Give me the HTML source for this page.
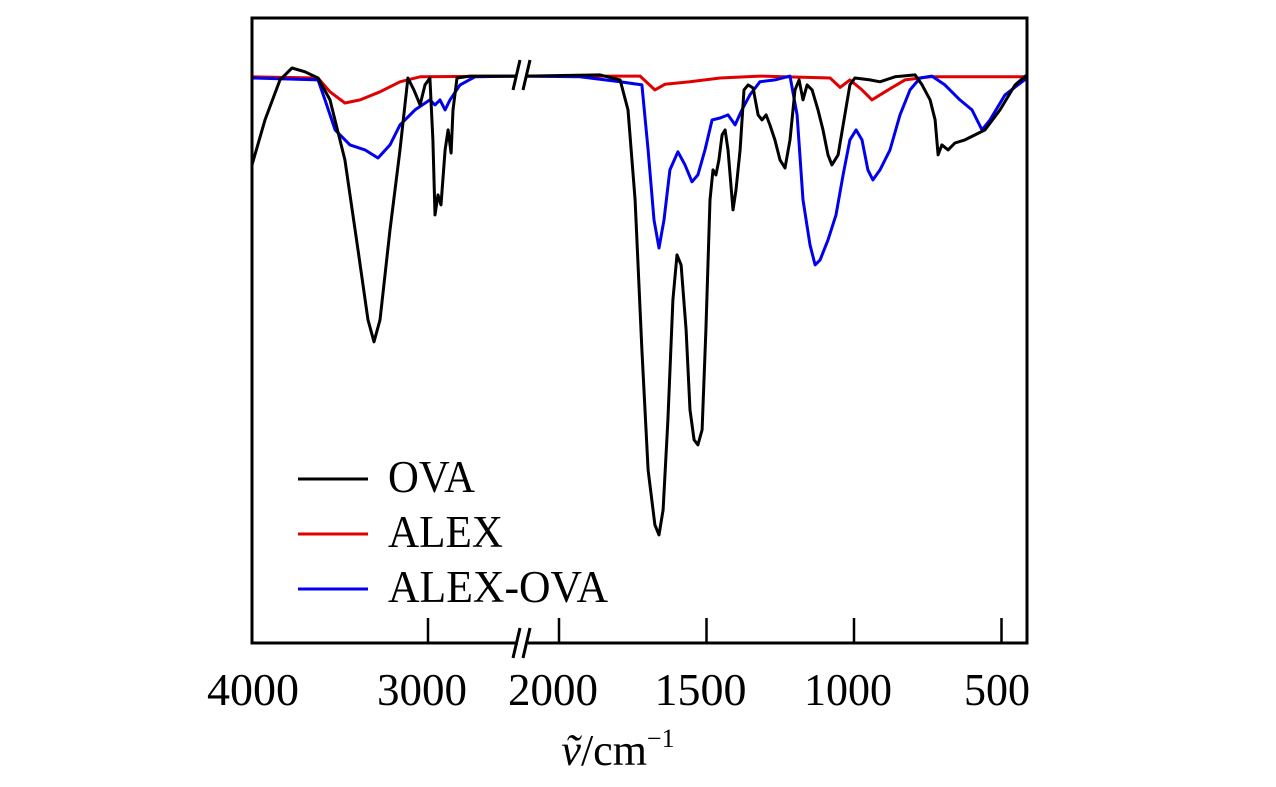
<!DOCTYPE html>
<html><head><meta charset="utf-8"><style>
body{margin:0;background:#fff;}
svg{display:block;font-family:"Liberation Serif",serif;}
</style></head><body>
<svg id="chart" width="1276" height="787" viewBox="0 0 1276 787">
<defs><clipPath id="clipL"><rect x="252" y="18" width="269" height="625"/></clipPath>
<clipPath id="clipR"><rect x="525" y="18" width="502" height="625"/></clipPath></defs>
<g id="series"></g>
<rect x="252" y="18" width="775" height="625" fill="none" stroke="#000" stroke-width="3"/>
<g id="ticks"></g>
<g>
<rect x="518" y="630" width="10" height="20" fill="#fff"/>
<line x1="513" y1="658" x2="520" y2="628" stroke="#000" stroke-width="3"/>
<line x1="523" y1="658" x2="530" y2="628" stroke="#000" stroke-width="3"/>
<rect x="517" y="60" width="9" height="30" fill="#fff"/>
<line x1="513" y1="90" x2="520" y2="60" stroke="#000" stroke-width="3"/>
<line x1="523" y1="90" x2="530" y2="60" stroke="#000" stroke-width="3"/>
</g>
<text x="618" y="765" font-size="44" text-anchor="middle"><tspan font-style="italic">ṽ</tspan>/cm<tspan font-size="26" dy="-18">−1</tspan></text>
<g>
<g><line x1="298" y1="479" x2="368" y2="479" stroke="#000" stroke-width="3"/><text x="388" y="492" font-size="45" textLength="87" lengthAdjust="spacingAndGlyphs">OVA</text></g>
<g><line x1="298" y1="534" x2="368" y2="534" stroke="#e00000" stroke-width="3"/><text x="388" y="547" font-size="45" textLength="115" lengthAdjust="spacingAndGlyphs">ALEX</text></g>
<g><line x1="298" y1="589" x2="368" y2="589" stroke="#0000ee" stroke-width="3"/><text x="388" y="602" font-size="45" textLength="220" lengthAdjust="spacingAndGlyphs">ALEX-OVA</text></g>
</g>
</svg>
<script>
const tickValues=[4000,3000,2000,1500,1000,500];
const ovaLeftX=[4000,3926,3841,3773,3699,3625,3557,3472,3398,3341,3307,3273,3216,3159,3114,3080,3045,3017,2989,2972,2960,2943,2926,2903,2886,2869,2858,2835,2761,2472];
const ovaLeftT=[76.5,83.7,90.1,92,91.4,90.4,86.9,77.3,62.9,51.7,48.2,51.7,66.1,78.9,90.4,88.5,86.1,89.3,90.4,80.5,68.5,71.7,70.1,78.9,82.1,78.4,85.3,90.4,90.7,90.7];
const ovaRightX=[2115,1861,1793,1766,1742,1719,1698,1675,1661,1647,1631,1614,1600,1586,1569,1556,1542,1529,1515,1502,1488,1478,1468,1458,1447,1437,1427,1410,1400,1386,1373,1359,1342,1325,1312,1298,1285,1268,1251,1234,1217,1200,1186,1173,1159,1142,1122,1105,1088,1075,1054,1034,1014,997,946,912,861,793,769,742,725,715,702,681,658,624,590,556,505,454,414];
const ovaRightT=[90.7,90.9,90.1,85.3,70.9,46.9,27.7,18.9,17.3,21.3,35.7,54.9,62.1,60.5,50.1,37.3,32.5,31.7,34.1,50.1,70.9,75.7,74.9,77.3,81.3,82.1,78.9,69.3,72.5,78.9,88.5,89.3,88.8,84.5,83.7,84.5,82.9,80.5,77.3,76,80.5,88.5,90.1,86.9,89.3,88.5,85.3,82.1,78.1,76.5,78.1,83.7,89.3,90.4,90.1,89.8,90.6,90.9,89.3,86.9,83.7,78.1,79.7,78.9,80,80.5,81.3,82.1,85.3,89.3,90.9];
const alexLeftX=[4000,3625,3557,3472,3386,3273,3159,3045,2472];
const alexLeftT=[90.6,90.4,88.2,86.4,86.9,88.2,89.8,90.6,90.7];
const alexRightX=[2115,1725,1675,1641,1556,1454,1319,1081,1047,1014,973,939,895,827,742,414];
const alexRightT=[90.7,90.7,88.5,89.4,89.8,90.4,90.7,90.4,88.9,90.1,88.5,86.9,88.2,90.1,90.6,90.6];
const blueLeftX=[4000,3625,3585,3528,3443,3358,3284,3216,3159,3074,2989,2960,2932,2903,2875,2818,2733,2472];
const blueLeftT=[90.4,90.1,86.9,82.1,79.7,78.9,77.6,79.7,82.9,85.3,86.9,86.1,86.9,85.3,86.9,89.3,90.6,90.7];
const blueRightX=[2115,1929,1793,1719,1698,1678,1661,1644,1624,1597,1573,1549,1529,1505,1481,1454,1427,1403,1380,1353,1319,1268,1217,1193,1173,1149,1132,1115,1088,1061,1037,1014,993,973,953,936,912,878,844,810,776,736,692,641,600,566,539,488,414];
const blueRightT=[90.7,90.6,89.8,89.3,78.9,67.7,63.2,67.7,75.7,78.6,76.5,73.8,74.9,78.9,83.7,84,84.5,82.9,85.3,87.7,89.8,90.1,90.7,84.5,70.9,63.7,60.5,61.3,64.5,68.5,74.9,80.5,82.1,80.5,75.7,74.1,75.7,78.9,84.5,88.5,90.4,90.7,89.3,86.9,85.3,82.1,83.7,87.7,90.4];
const tickLabelLen=[92,90,90,92,88,66];
const NS="http://www.w3.org/2000/svg";
function xScale(w){ return w>2300 ? 252+(4000-w)*0.176 : 559+(2000-w)*0.295; }
function yScale(t){ return 643-t*6.25; }
const g=document.getElementById('series');
function draw(xs,ts,color,clip,name){
  const p=document.createElementNS(NS,'path');
  p.setAttribute('d',xs.map((w,i)=>(i?'L':'M')+xScale(w).toFixed(1)+','+yScale(ts[i]).toFixed(1)).join(''));
  p.setAttribute('fill','none');p.setAttribute('stroke',color);p.setAttribute('stroke-width','3');
  p.setAttribute('stroke-linejoin','round');p.setAttribute('clip-path','url(#'+clip+')');
  
  
  g.appendChild(p);
}
draw(alexLeftX,alexLeftT,'#e00000','clipL','alex-line-left');
draw(alexRightX,alexRightT,'#e00000','clipR','alex-line-right');
draw(blueLeftX,blueLeftT,'#0000ee','clipL','alex-ova-line-left');
draw(blueRightX,blueRightT,'#0000ee','clipR','alex-ova-line-right');
draw(ovaLeftX,ovaLeftT,'#000','clipL','ova-line-left');
draw(ovaRightX,ovaRightT,'#000','clipR','ova-line-right');
const tg=document.getElementById('ticks');
tickValues.forEach((v,i)=>{
  const x=xScale(v);
  if(v!==4000){
    const l=document.createElementNS(NS,'line');
    l.setAttribute('x1',x);l.setAttribute('x2',x);l.setAttribute('y1',643);l.setAttribute('y2',618);
    l.setAttribute('stroke','#000');l.setAttribute('stroke-width','2.5');
    
    
    tg.appendChild(l);
  }
  const t=document.createElementNS(NS,'text');
  const cx = v===4000?253 : v===500?997 : x-6;
  t.setAttribute('x',cx-tickLabelLen[i]/2);t.setAttribute('y',705);t.setAttribute('font-size','46');
  t.setAttribute('textLength',tickLabelLen[i]);t.setAttribute('lengthAdjust','spacingAndGlyphs');
  t.textContent=v;
  
  
  tg.appendChild(t);
});
</script>
</body></html>
